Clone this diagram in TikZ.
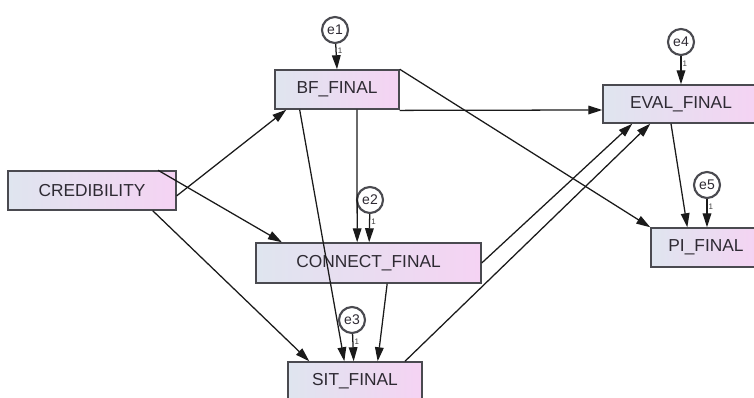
\documentclass[tikz,border=0pt]{standalone}
\usepackage{fontspec}
\setmainfont{Liberation Sans}
\usetikzlibrary{arrows.meta}
\definecolor{boxleft}{HTML}{DFE5EF}
\definecolor{boxright}{HTML}{F5D3F3}
\definecolor{edgecol}{HTML}{4A4A50}
\definecolor{inkcol}{HTML}{2E2A33}
\definecolor{wirecol}{HTML}{1A1A1A}
\begin{document}
\begin{tikzpicture}[x=0.75pt,y=-0.75pt,
  var/.style={draw=edgecol,line width=1.1pt,left color=boxleft,right color=boxright,
    text=inkcol,font=\fontsize{13}{15}\selectfont,inner sep=0pt,anchor=center},
  err/.style={circle,draw=edgecol,line width=1.6pt,fill=white,
    minimum size=19.5pt,inner sep=0pt,text=inkcol,font=\fontsize{10.5}{12}\selectfont},
  path/.style={draw=wirecol,line width=0.95pt,-{Triangle[length=10.5pt,width=6.5pt]}},
  onelab/.style={pos=0.28,right=0.8pt,inner sep=0pt,text=darkgray,font=\fontsize{6}{6}\selectfont}]
\useasboundingbox (0,0) rectangle (754,398);

% observed variables
\node[var,minimum width=126pt,minimum height=29.25pt] (cred) at (92,190.5) {CREDIBILITY};
\node[var,minimum width=93pt,minimum height=29.25pt] (bf) at (337,89.5) {BF\_FINAL};
\node[var,minimum width=168.75pt,minimum height=30pt] (conn) at (368.5,263) {CONNECT\_FINAL};
\node[var,minimum width=100.5pt,minimum height=28.5pt] (sit) at (355,381) {SIT\_FINAL};
\node[var,minimum width=117pt,minimum height=28.5pt] (eval) at (681,104) {EVAL\_FINAL};
\node[var,minimum width=82.5pt,minimum height=29.25pt] (pi) at (706,247.5) {PI\_FINAL};

% error terms
\node[err] (e1) at (335,30) {e1};
\node[err] (e2) at (370,200) {e2};
\node[err] (e3) at (352,320) {e3};
\node[err] (e4) at (681,42) {e4};
\node[err] (e5) at (707,185) {e5};

% structural paths
\draw[path] ([yshift=-4pt]cred.east) -- ([xshift=9pt]bf.south west);
\draw[path] ([xshift=-14pt]cred.north east) -- ([xshift=20pt]conn.north west);
\draw[path] ([xshift=-18pt]cred.south east) -- ([xshift=16.5pt]sit.north west);
\draw[path] ([xshift=15pt]bf.south) -- ([xshift=-8.5pt]conn.north);
\draw[path] ([xshift=-28pt]bf.south) -- ([xshift=-8pt]sit.north);
\draw[path] ([yshift=-0.5pt]bf.south east) -- ([yshift=-4.5pt]eval.west);
\draw[path] (bf.north east) -- (pi.north west);
\draw[path] ([xshift=14pt]conn.south) -- ([xshift=17pt]sit.north);
\draw[path] (conn.east) -- ([xshift=22.5pt]eval.south west);
\draw[path] ([xshift=37.5pt]sit.north) -- ([xshift=36pt]eval.south west);
\draw[path] ([xshift=-7.5pt]eval.south) -- ([xshift=-14pt]pi.north);

% error paths
\draw[path] (e1) -- node[onelab]{1} (bf.north);
\draw[path] (e2) -- node[onelab]{1} ([xshift=0.5pt]conn.north);
\draw[path] (e3) -- node[onelab]{1} ([xshift=-1pt]sit.north);
\draw[path] (e4) -- node[onelab]{1} (eval.north);
\draw[path] (e5) -- node[onelab]{1} ([xshift=0.75pt]pi.north);
\end{tikzpicture}
\end{document}
